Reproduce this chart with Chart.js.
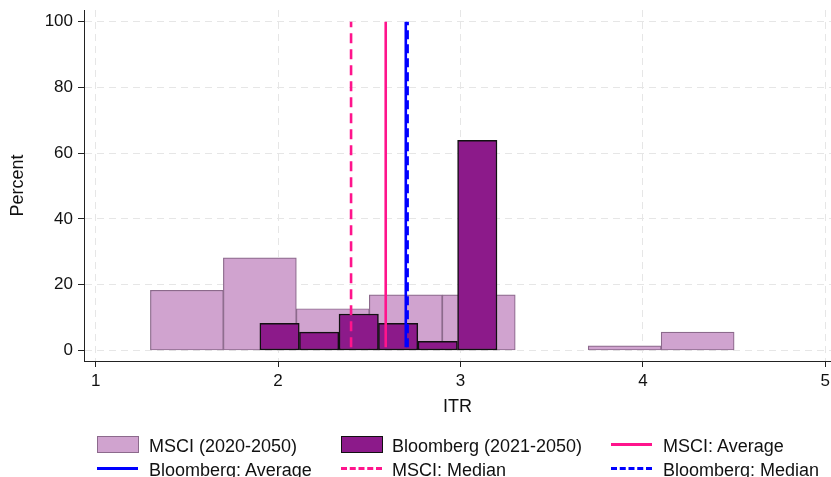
<!DOCTYPE html>
<html>
<head>
<meta charset="utf-8">
<script src="https://cdn.jsdelivr.net/npm/chart.js@4.4.1/dist/chart.umd.min.js"></script>
<style>
  body { margin: 0; background: #fff; }
  #wrap { position: relative; width: 831px; height: 477px; overflow: hidden; font-family: "Liberation Sans", Arial, sans-serif; }
  #wrap canvas { position: absolute; left: 0; top: 0; }
  .lg-txt { position: absolute; font-size: 18px; line-height: 18px; color: #111; white-space: nowrap; }
  .lg-box { position: absolute; width: 40px; height: 15px; }
  .lg-line { position: absolute; width: 41px; height: 0; }
</style>
</head>
<body>
<div id="wrap">
  <canvas id="c"></canvas>
</div>
<script>
// histogram data (percent of firms per ITR bin)
const msciCenters = [1.5, 1.9, 2.3, 2.7, 3.1, 3.9, 4.3];
const msciPct = [18.3, 28.2, 12.7, 16.9, 16.9, 1.4, 5.6];

const bbgCenters = [2.008, 2.225, 2.442, 2.658, 2.875, 3.092];
const bbgPct = [8.3, 5.6, 11.1, 8.3, 2.8, 63.9];

// reference lines (ITR)
const msciAvg = 2.59;
const msciMedian = 2.40;
const bbgAvg = 2.70;
const bbgMedian = 2.71;
const lineSpan = [1, 100];

const xTicks = [1, 2, 3, 4, 5];
const yTicks = [0, 20, 40, 60, 80, 100];

const legendItems = [
  { label: "MSCI (2020-2050)", kind: "box", fill: "#d0a3cf", stroke: "#8c6a8c" },
  { label: "Bloomberg (2021-2050)", kind: "box", fill: "#8c1a8a", stroke: "#111" },
  { label: "MSCI: Average", kind: "line", color: "#ff148c", dash: false },
  { label: "Bloomberg: Average", kind: "line", color: "#0000ff", dash: false },
  { label: "MSCI: Median", kind: "line", color: "#ff148c", dash: true },
  { label: "Bloomberg: Median", kind: "line", color: "#0000ff", dash: true },
];

const FONT = "'Liberation Sans', Arial, sans-serif";
const vline = (x) => lineSpan.map((y) => ({ x, y }));

const datasets = [
  {
    type: "line", label: "Bloomberg: Median", data: vline(bbgMedian), xAxisID: "x",
    borderColor: "#0000ff", borderWidth: 2.6, borderDash: [9, 5], pointRadius: 0, order: 0,
  },
  {
    type: "line", label: "Bloomberg: Average", data: vline(bbgAvg), xAxisID: "x",
    borderColor: "#0000ff", borderWidth: 2.6, pointRadius: 0, order: 1,
  },
  {
    type: "line", label: "MSCI: Median", data: vline(msciMedian), xAxisID: "x",
    borderColor: "#ff148c", borderWidth: 2.6, borderDash: [10, 6], pointRadius: 0, order: 2,
  },
  {
    type: "line", label: "MSCI: Average", data: vline(msciAvg), xAxisID: "x",
    borderColor: "#ff148c", borderWidth: 2.6, pointRadius: 0, order: 3,
  },
  {
    type: "bar", label: "Bloomberg (2021-2050)", xAxisID: "x2",
    data: bbgCenters.map((x, i) => ({ x, y: bbgPct[i] })),
    backgroundColor: "#8c1a8a", borderColor: "#111", borderWidth: 1.5, borderSkipped: false,
    barPercentage: 1, categoryPercentage: 1, grouped: false, order: 4,
  },
  {
    type: "bar", label: "MSCI (2020-2050)", xAxisID: "x",
    data: msciCenters.map((x, i) => ({ x, y: msciPct[i] })),
    backgroundColor: "#d0a3cf", borderColor: "#8c6a8c", borderWidth: 1.2, borderSkipped: false,
    barPercentage: 1, categoryPercentage: 1, grouped: false, order: 5,
  },
];

const xRange = { min: 0.936, max: 5.031 };

new Chart(document.getElementById("c"), {
  data: { datasets },
  options: {
    responsive: true,
    maintainAspectRatio: false,
    animation: false,
    layout: { padding: { top: 10, right: 0, bottom: 59, left: 0 } },
    plugins: { legend: { display: false }, tooltip: { enabled: false } },
    scales: {
      x: {
        type: "linear", position: "bottom", min: xRange.min, max: xRange.max, offset: false,
        afterBuildTicks: (s) => { s.ticks = xTicks.map((v) => ({ value: v })); },
        afterFit: (s) => { s.height = 57; s.paddingLeft = 0; s.paddingRight = 0; },
        grid: { offset: false, color: "#e6e6e6", lineWidth: 1, tickColor: "#222", tickLength: 6, tickWidth: 1 },
        border: { display: true, color: "#222", width: 1, dash: [7, 5] },
        ticks: { color: "#111", font: { family: FONT, size: 17 }, padding: 4, maxRotation: 0 },
        title: { display: true, text: "ITR", color: "#111", font: { family: FONT, size: 18 }, padding: { top: 0, bottom: 0 } },
      },
      x2: {
        type: "linear", display: false, min: xRange.min, max: xRange.max, offset: false,
        grid: { offset: false },
        afterBuildTicks: (s) => { s.ticks = xTicks.map((v) => ({ value: v })); },
      },
      y: {
        type: "linear", min: -3.19, max: 103.56,
        afterBuildTicks: (s) => { s.ticks = yTicks.map((v) => ({ value: v })); },
        afterFit: (s) => { s.width = 84; s.paddingTop = 0; s.paddingBottom = 0; },
        grid: { color: "#e6e6e6", lineWidth: 1, tickColor: "#222", tickLength: 6, tickWidth: 1 },
        border: { display: true, color: "#222", width: 1, dash: [7, 5] },
        ticks: { color: "#111", font: { family: FONT, size: 17 }, padding: 5 },
        title: { display: true, text: "Percent", color: "#111", font: { family: FONT, size: 18 }, padding: { top: 7, bottom: 0 } },
      },
    },
  },
});

// legend: 3 columns x 2 rows below the plot
const wrap = document.getElementById("wrap");
const colX = [97, 341, 611];
const colText = [149, 392, 663];
const rowY = [444, 468];
legendItems.forEach((it, i) => {
  const c = i % 3, r = Math.floor(i / 3);
  const mark = document.createElement("div");
  if (it.kind === "box") {
    mark.className = "lg-box";
    mark.style.left = colX[c] + "px";
    mark.style.top = (rowY[r] - 8) + "px";
    mark.style.background = it.fill;
    mark.style.border = "1px solid " + it.stroke;
  } else {
    mark.className = "lg-line";
    mark.style.left = colX[c] + "px";
    mark.style.top = (rowY[r] - 1.5) + "px";
    mark.style.borderTop = "3px " + (it.dash ? "dashed " : "solid ") + it.color;
  }
  wrap.appendChild(mark);
  const t = document.createElement("div");
  t.className = "lg-txt";
  t.style.left = colText[c] + "px";
  t.style.top = (rowY[r] - 7) + "px";
  t.textContent = it.label;
  wrap.appendChild(t);
});
</script>
</body>
</html>
